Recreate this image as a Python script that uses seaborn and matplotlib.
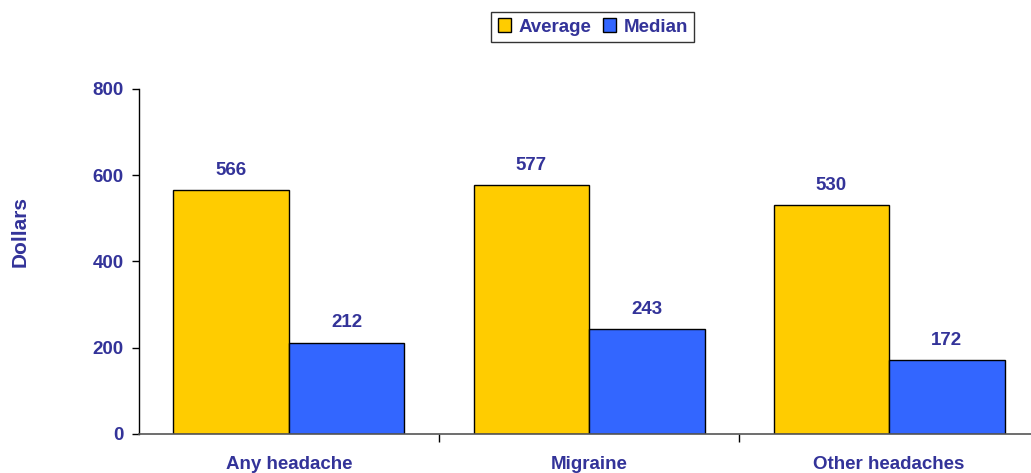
import matplotlib
matplotlib.use("Agg")
import matplotlib.pyplot as plt
import seaborn as sns
import pandas as pd
from matplotlib.patches import Patch

# Data
categories = ["Any headache", "Migraine", "Other headaches"]
average = [566, 577, 530]
median = [212, 243, 172]
series = ["Average", "Median"]

df = pd.DataFrame({
    "category": categories * 2,
    "stat": ["Average"] * 3 + ["Median"] * 3,
    "value": average + median,
})

sns.set_style("white")
plt.rcParams['font.family'] = ['Liberation Sans', 'DejaVu Sans']
text_color = "#333399"
palette = {"Average": "#FFCC00", "Median": "#3366FF"}
fs = 13.5

fig = plt.figure(figsize=(10.31, 4.73), dpi=100)
ax = fig.add_axes([0.1348, 0.0825, 0.873, 0.7294])

sns.barplot(data=df, x="category", y="value", hue="stat", palette=palette,
            width=0.77, edgecolor="black", linewidth=1, saturation=1,
            legend=False, ax=ax)

for cont in ax.containers:
    ax.bar_label(cont, fmt="%d", padding=8, color=text_color,
                 fontsize=fs, fontweight="bold")

ax.set_xlim(-0.5, 2.5)
ax.set_ylim(0, 800)
ax.set_yticks([0, 200, 400, 600, 800])
ax.tick_params(axis="y", left=True, direction="out", length=5, width=1,
               color="black", labelcolor=text_color, labelsize=fs, pad=6)
for lab in ax.get_yticklabels():
    lab.set_fontweight("bold")
ax.set_xticks([0, 1, 2])
ax.set_xticklabels(categories, fontweight="bold", color=text_color, fontsize=fs)
ax.tick_params(axis="x", which="major", bottom=True, length=0, pad=16)
ax.set_xticks([0.5, 1.5], minor=True)
ax.tick_params(axis="x", which="minor", bottom=True, direction="out",
               length=6, width=1, color="black")

ax.set_xlabel("")
ax.set_ylabel("Dollars", color=text_color, fontsize=15, fontweight="bold",
              va="center")
ax.yaxis.set_label_coords(-0.132, 0.586)
for side in ["top", "right"]:
    ax.spines[side].set_visible(False)
ax.spines["left"].set_color("black")
ax.spines["bottom"].set_color("#555555")
ax.spines["left"].set_linewidth(1)
ax.spines["bottom"].set_linewidth(1.2)

handles = [Patch(facecolor=palette[s], edgecolor="black", label=s) for s in series]
leg = fig.legend(handles=handles, loc="center", bbox_to_anchor=(0.575, 0.943),
                 ncol=2, frameon=True, fancybox=False, edgecolor="black",
                 handlelength=0.7, handleheight=0.7, handletextpad=0.4,
                 columnspacing=0.6, borderpad=0.35,
                 prop={"weight": "bold", "size": fs})
for t in leg.get_texts():
    t.set_color(text_color)

fig.savefig("out.png", dpi=100)
